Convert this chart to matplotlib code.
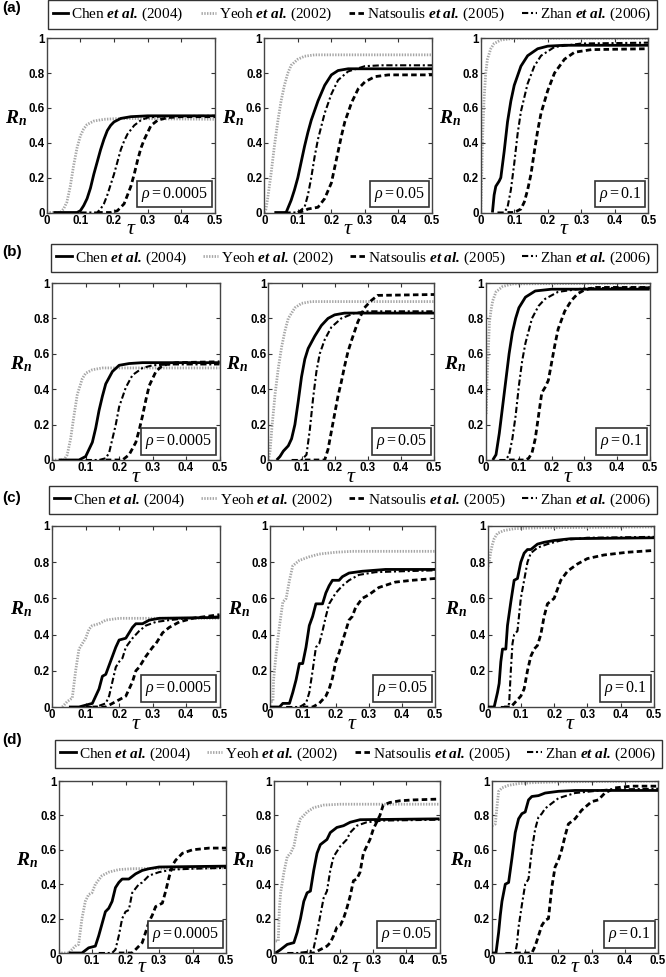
import matplotlib
matplotlib.use('Agg')
import matplotlib.pyplot as plt
from matplotlib.lines import Line2D

# ---------------- data ----------------
ROW_LABELS = ['(a)', '(b)', '(c)', '(d)']
RHO_LABELS = ['0.0005', '0.05', '0.1']
METHODS = ['Chen', 'Yeoh', 'Natsoulis', 'Zhan']
YEARS = ['2004', '2002', '2005', '2006']
X_TICKS = [0, 0.1, 0.2, 0.3, 0.4, 0.5]
X_TICK_LABELS = ['0', '0.1', '0.2', '0.3', '0.4', '0.5']
Y_TICKS = [0, 0.2, 0.4, 0.6, 0.8, 1]
Y_TICK_LABELS = ['0', '0.2', '0.4', '0.6', '0.8', '1']

# row (a)
A1_YEOH = [(0.0,0),(0.04,0),(0.05,0.02),(0.06,0.06),(0.07,0.15),(0.08,0.27),(0.09,0.37),(0.1,0.44),(0.11,0.48),(0.12,0.505),(0.14,0.525),(0.17,0.535),(0.22,0.54),(0.5,0.535)]
A1_CHEN = [(0.02,0),(0.09,0),(0.1,0.01),(0.11,0.04),(0.12,0.08),(0.13,0.14),(0.14,0.22),(0.15,0.29),(0.16,0.36),(0.17,0.42),(0.18,0.47),(0.19,0.5),(0.2,0.52),(0.22,0.54),(0.25,0.55),(0.3,0.555),(0.5,0.555)]
A1_ZHAN = [(0.1,0),(0.15,0),(0.16,0.02),(0.17,0.05),(0.18,0.1),(0.19,0.16),(0.2,0.22),(0.21,0.29),(0.22,0.36),(0.23,0.41),(0.24,0.45),(0.26,0.5),(0.28,0.53),(0.3,0.545),(0.35,0.553),(0.5,0.555)]
A1_NATS = [(0.15,0),(0.19,0),(0.21,0.01),(0.22,0.03),(0.23,0.05),(0.24,0.1),(0.25,0.15),(0.26,0.22),(0.27,0.3),(0.28,0.37),(0.29,0.42),(0.3,0.46),(0.31,0.5),(0.33,0.53),(0.36,0.545),(0.4,0.55),(0.5,0.55)]

A2_YEOH = [(0,0),(0.005,0.02),(0.01,0.08),(0.02,0.22),(0.03,0.38),(0.04,0.52),(0.05,0.64),(0.06,0.73),(0.07,0.8),(0.08,0.845),(0.1,0.88),(0.12,0.897),(0.15,0.905),(0.5,0.905)]
A2_CHEN = [(0.03,0),(0.065,0),(0.08,0.07),(0.09,0.13),(0.1,0.2),(0.11,0.29),(0.12,0.38),(0.13,0.46),(0.14,0.53),(0.16,0.64),(0.18,0.73),(0.2,0.79),(0.22,0.815),(0.25,0.825),(0.5,0.825)]
A2_ZHAN = [(0.06,0),(0.1,0),(0.12,0.03),(0.13,0.1),(0.14,0.2),(0.15,0.32),(0.16,0.42),(0.18,0.57),(0.2,0.68),(0.22,0.76),(0.25,0.81),(0.3,0.84),(0.35,0.845),(0.5,0.845)]
A2_NATS = [(0.1,0),(0.12,0.01),(0.13,0.02),(0.16,0.03),(0.18,0.08),(0.2,0.17),(0.21,0.26),(0.22,0.35),(0.23,0.44),(0.24,0.52),(0.26,0.63),(0.28,0.71),(0.3,0.75),(0.33,0.78),(0.37,0.79),(0.5,0.79)]

A3_YEOH = [(0,0),(0.003,0.2),(0.006,0.45),(0.01,0.65),(0.015,0.8),(0.02,0.88),(0.03,0.94),(0.04,0.97),(0.06,0.99),(0.1,1.0),(0.5,1.0)]
A3_CHEN = [(0.035,0),(0.04,0.1),(0.045,0.15),(0.055,0.18),(0.06,0.2),(0.07,0.35),(0.08,0.52),(0.09,0.64),(0.1,0.73),(0.12,0.84),(0.14,0.9),(0.17,0.94),(0.2,0.955),(0.25,0.96),(0.5,0.96)]
A3_ZHAN = [(0.05,0),(0.07,0),(0.08,0.03),(0.09,0.13),(0.1,0.28),(0.11,0.45),(0.12,0.58),(0.14,0.74),(0.16,0.84),(0.18,0.9),(0.22,0.95),(0.3,0.97),(0.5,0.975)]
A3_NATS = [(0.08,0),(0.1,0),(0.12,0.02),(0.13,0.06),(0.14,0.13),(0.15,0.22),(0.16,0.35),(0.17,0.47),(0.18,0.57),(0.2,0.7),(0.22,0.8),(0.25,0.88),(0.28,0.92),(0.33,0.935),(0.5,0.94)]

# row (b)
B1_YEOH = [(0.0,0),(0.035,0),(0.045,0.03),(0.055,0.12),(0.065,0.25),(0.075,0.37),(0.09,0.46),(0.1,0.49),(0.12,0.51),(0.15,0.52),(0.5,0.52)]
B1_CHEN = [(0.02,0),(0.08,0),(0.1,0.02),(0.12,0.1),(0.13,0.18),(0.14,0.28),(0.15,0.36),(0.16,0.43),(0.18,0.5),(0.2,0.535),(0.23,0.545),(0.27,0.55),(0.5,0.55)]
B1_ZHAN = [(0.1,0),(0.14,0),(0.16,0.01),(0.17,0.04),(0.18,0.12),(0.19,0.2),(0.2,0.3),(0.22,0.41),(0.24,0.48),(0.27,0.52),(0.3,0.535),(0.35,0.54),(0.5,0.54)]
B1_NATS = [(0.16,0),(0.21,0),(0.23,0.03),(0.25,0.1),(0.26,0.17),(0.27,0.25),(0.28,0.34),(0.29,0.42),(0.31,0.5),(0.33,0.535),(0.37,0.55),(0.5,0.555)]

B2_YEOH = [(0,0),(0.005,0.05),(0.01,0.17),(0.02,0.37),(0.03,0.52),(0.04,0.64),(0.05,0.73),(0.06,0.8),(0.08,0.86),(0.1,0.885),(0.13,0.895),(0.5,0.895)]
B2_CHEN = [(0.025,0),(0.035,0.02),(0.045,0.05),(0.06,0.08),(0.07,0.12),(0.08,0.2),(0.09,0.33),(0.1,0.47),(0.11,0.57),(0.12,0.63),(0.14,0.7),(0.16,0.76),(0.18,0.8),(0.2,0.82),(0.23,0.83),(0.5,0.83)]
B2_ZHAN = [(0.07,0),(0.1,0),(0.115,0.03),(0.125,0.17),(0.135,0.35),(0.145,0.5),(0.155,0.6),(0.17,0.68),(0.19,0.75),(0.22,0.8),(0.26,0.83),(0.3,0.84),(0.5,0.84)]
B2_NATS = [(0.11,0),(0.17,0),(0.18,0.06),(0.19,0.16),(0.2,0.26),(0.21,0.36),(0.22,0.44),(0.23,0.53),(0.24,0.61),(0.25,0.67),(0.27,0.78),(0.29,0.86),(0.31,0.9),(0.33,0.93),(0.5,0.935)]

B3_YEOH = [(0,0.26),(0.003,0.47),(0.006,0.6),(0.01,0.78),(0.015,0.85),(0.02,0.9),(0.03,0.95),(0.05,0.98),(0.08,0.995),(0.5,1.0)]
B3_CHEN = [(0.02,0),(0.03,0.03),(0.04,0.15),(0.05,0.3),(0.06,0.45),(0.07,0.6),(0.08,0.72),(0.09,0.8),(0.1,0.86),(0.12,0.92),(0.15,0.955),(0.2,0.965),(0.5,0.965)]
B3_ZHAN = [(0.04,0),(0.06,0),(0.07,0.03),(0.08,0.12),(0.09,0.25),(0.1,0.42),(0.11,0.56),(0.12,0.66),(0.14,0.8),(0.16,0.87),(0.18,0.91),(0.22,0.95),(0.3,0.97),(0.5,0.975)]
B3_NATS = [(0.07,0),(0.12,0),(0.13,0.01),(0.14,0.04),(0.15,0.12),(0.16,0.25),(0.17,0.38),(0.18,0.41),(0.19,0.45),(0.2,0.55),(0.21,0.65),(0.22,0.74),(0.24,0.84),(0.26,0.9),(0.28,0.94),(0.3,0.96),(0.33,0.975),(0.5,0.975)]

# row (c)
C1_YEOH = [(0.03,0),(0.045,0.03),(0.06,0.05),(0.07,0.2),(0.08,0.32),(0.09,0.35),(0.1,0.38),(0.11,0.43),(0.12,0.45),(0.14,0.46),(0.16,0.48),(0.2,0.49),(0.5,0.49)]
C1_CHEN = [(0.05,0),(0.08,0),(0.1,0.01),(0.12,0.02),(0.14,0.1),(0.15,0.17),(0.16,0.18),(0.18,0.28),(0.19,0.33),(0.2,0.37),(0.22,0.38),(0.24,0.44),(0.25,0.46),(0.27,0.46),(0.29,0.48),(0.32,0.49),(0.5,0.495)]
C1_ZHAN = [(0.1,0),(0.13,0),(0.16,0.02),(0.17,0.06),(0.18,0.14),(0.19,0.22),(0.2,0.25),(0.21,0.27),(0.22,0.33),(0.24,0.38),(0.26,0.42),(0.28,0.45),(0.31,0.47),(0.35,0.48),(0.4,0.49),(0.5,0.5)]
C1_NATS = [(0.12,0),(0.16,0),(0.18,0.02),(0.2,0.04),(0.22,0.06),(0.24,0.14),(0.25,0.2),(0.26,0.22),(0.28,0.28),(0.3,0.33),(0.31,0.35),(0.33,0.41),(0.35,0.44),(0.38,0.47),(0.42,0.49),(0.5,0.51)]

C2_YEOH = [(0.005,0.03),(0.01,0.03),(0.012,0.15),(0.02,0.3),(0.03,0.45),(0.04,0.58),(0.05,0.6),(0.06,0.7),(0.07,0.78),(0.09,0.81),(0.12,0.83),(0.15,0.845),(0.2,0.855),(0.25,0.86),(0.5,0.86)]
C2_CHEN = [(0.0,0),(0.03,0),(0.04,0.02),(0.06,0.02),(0.07,0.08),(0.08,0.15),(0.09,0.24),(0.1,0.24),(0.11,0.33),(0.12,0.45),(0.13,0.5),(0.14,0.57),(0.16,0.57),(0.17,0.63),(0.18,0.67),(0.19,0.7),(0.21,0.7),(0.22,0.72),(0.24,0.74),(0.28,0.75),(0.35,0.76),(0.5,0.76)]
C2_ZHAN = [(0.05,0),(0.09,0),(0.11,0.02),(0.12,0.08),(0.13,0.2),(0.14,0.33),(0.15,0.35),(0.16,0.42),(0.17,0.5),(0.18,0.57),(0.19,0.6),(0.2,0.63),(0.22,0.67),(0.24,0.7),(0.27,0.73),(0.32,0.745),(0.4,0.75),(0.5,0.755)]
C2_NATS = [(0.1,0),(0.13,0),(0.15,0.02),(0.16,0.04),(0.17,0.06),(0.18,0.1),(0.19,0.16),(0.2,0.25),(0.21,0.3),(0.22,0.36),(0.23,0.42),(0.24,0.48),(0.25,0.5),(0.26,0.55),(0.28,0.6),(0.3,0.62),(0.33,0.66),(0.38,0.69),(0.43,0.7),(0.5,0.71)]

C3_YEOH = [(0,0.76),(0.005,0.8),(0.01,0.86),(0.015,0.9),(0.02,0.93),(0.03,0.96),(0.05,0.975),(0.08,0.985),(0.15,0.99),(0.5,0.995)]
C3_CHEN = [(0.0,0),(0.02,0),(0.03,0.08),(0.035,0.13),(0.04,0.25),(0.045,0.32),(0.055,0.32),(0.06,0.45),(0.07,0.58),(0.08,0.7),(0.09,0.71),(0.1,0.8),(0.11,0.85),(0.12,0.87),(0.13,0.87),(0.15,0.9),(0.17,0.91),(0.2,0.92),(0.25,0.93),(0.5,0.935)]
C3_ZHAN = [(0.04,0),(0.06,0),(0.065,0.02),(0.07,0.2),(0.075,0.35),(0.08,0.4),(0.09,0.42),(0.1,0.6),(0.11,0.7),(0.12,0.8),(0.13,0.85),(0.15,0.88),(0.18,0.9),(0.22,0.92),(0.3,0.935),(0.5,0.94)]
C3_NATS = [(0.05,0),(0.07,0),(0.08,0.02),(0.1,0.06),(0.11,0.1),(0.12,0.2),(0.13,0.28),(0.14,0.32),(0.15,0.34),(0.16,0.4),(0.17,0.5),(0.18,0.57),(0.2,0.6),(0.21,0.65),(0.22,0.7),(0.24,0.75),(0.27,0.79),(0.3,0.82),(0.35,0.84),(0.42,0.855),(0.5,0.865)]

# row (d)
D1_YEOH = [(0.0,0),(0.03,0),(0.04,0.02),(0.05,0.04),(0.06,0.05),(0.07,0.2),(0.08,0.3),(0.09,0.34),(0.1,0.35),(0.11,0.4),(0.13,0.45),(0.15,0.47),(0.18,0.485),(0.22,0.49),(0.5,0.495)]
D1_CHEN = [(0.03,0),(0.07,0),(0.09,0.03),(0.11,0.04),(0.12,0.1),(0.13,0.17),(0.14,0.24),(0.15,0.26),(0.16,0.3),(0.17,0.38),(0.18,0.41),(0.19,0.43),(0.21,0.43),(0.23,0.46),(0.25,0.48),(0.27,0.49),(0.3,0.5),(0.5,0.505)]
D1_ZHAN = [(0.12,0),(0.16,0),(0.17,0.02),(0.18,0.1),(0.19,0.2),(0.2,0.24),(0.21,0.25),(0.22,0.35),(0.24,0.4),(0.25,0.41),(0.27,0.45),(0.3,0.47),(0.34,0.485),(0.4,0.49),(0.5,0.495)]
D1_NATS = [(0.18,0),(0.22,0),(0.24,0.04),(0.25,0.06),(0.26,0.12),(0.27,0.18),(0.28,0.22),(0.29,0.27),(0.31,0.29),(0.32,0.36),(0.33,0.44),(0.34,0.51),(0.35,0.54),(0.37,0.58),(0.4,0.6),(0.45,0.61),(0.5,0.61)]

D2_YEOH = [(0.005,0.07),(0.013,0.07),(0.016,0.25),(0.02,0.35),(0.03,0.47),(0.04,0.56),(0.05,0.58),(0.06,0.62),(0.07,0.72),(0.08,0.78),(0.1,0.82),(0.12,0.845),(0.15,0.86),(0.2,0.865),(0.5,0.865)]
D2_CHEN = [(0.005,0),(0.02,0.02),(0.04,0.05),(0.06,0.06),(0.07,0.12),(0.08,0.2),(0.09,0.3),(0.1,0.35),(0.11,0.36),(0.12,0.48),(0.13,0.58),(0.14,0.63),(0.16,0.66),(0.17,0.7),(0.19,0.73),(0.21,0.74),(0.23,0.76),(0.26,0.775),(0.5,0.78)]
D2_ZHAN = [(0.04,0),(0.08,0),(0.11,0.01),(0.12,0.03),(0.13,0.12),(0.14,0.22),(0.15,0.32),(0.16,0.36),(0.17,0.48),(0.18,0.56),(0.19,0.59),(0.2,0.62),(0.22,0.66),(0.23,0.7),(0.25,0.74),(0.28,0.76),(0.33,0.77),(0.5,0.775)]
D2_NATS = [(0.08,0),(0.12,0),(0.14,0.02),(0.16,0.04),(0.17,0.06),(0.18,0.1),(0.19,0.15),(0.2,0.16),(0.21,0.2),(0.22,0.26),(0.23,0.33),(0.24,0.42),(0.25,0.43),(0.26,0.47),(0.27,0.58),(0.28,0.62),(0.29,0.66),(0.3,0.72),(0.31,0.76),(0.32,0.8),(0.33,0.86),(0.35,0.875),(0.38,0.885),(0.42,0.89),(0.5,0.895)]

D3_YEOH = [(0,0.74),(0.01,0.75),(0.015,0.85),(0.02,0.94),(0.03,0.96),(0.05,0.975),(0.08,0.985),(0.12,0.99),(0.2,0.995),(0.5,1.0)]
D3_CHEN = [(0.0,0),(0.012,0),(0.02,0.12),(0.025,0.22),(0.03,0.3),(0.035,0.35),(0.04,0.4),(0.05,0.41),(0.06,0.55),(0.07,0.7),(0.08,0.78),(0.09,0.81),(0.1,0.82),(0.11,0.89),(0.12,0.91),(0.14,0.915),(0.16,0.93),(0.2,0.94),(0.25,0.945),(0.5,0.945)]
D3_ZHAN = [(0.04,0),(0.07,0),(0.075,0.05),(0.08,0.15),(0.09,0.28),(0.1,0.4),(0.11,0.43),(0.12,0.6),(0.13,0.72),(0.14,0.79),(0.15,0.81),(0.16,0.84),(0.18,0.87),(0.2,0.9),(0.25,0.93),(0.35,0.95),(0.5,0.955)]
D3_NATS = [(0.07,0),(0.12,0),(0.13,0.04),(0.14,0.1),(0.15,0.16),(0.16,0.19),(0.17,0.2),(0.18,0.38),(0.19,0.5),(0.2,0.54),(0.21,0.6),(0.22,0.68),(0.23,0.75),(0.25,0.78),(0.27,0.83),(0.3,0.88),(0.32,0.89),(0.34,0.93),(0.37,0.96),(0.42,0.97),(0.5,0.97)]

PANELS = [
    [(A1_CHEN, A1_YEOH, A1_NATS, A1_ZHAN), (A2_CHEN, A2_YEOH, A2_NATS, A2_ZHAN), (A3_CHEN, A3_YEOH, A3_NATS, A3_ZHAN)],
    [(B1_CHEN, B1_YEOH, B1_NATS, B1_ZHAN), (B2_CHEN, B2_YEOH, B2_NATS, B2_ZHAN), (B3_CHEN, B3_YEOH, B3_NATS, B3_ZHAN)],
    [(C1_CHEN, C1_YEOH, C1_NATS, C1_ZHAN), (C2_CHEN, C2_YEOH, C2_NATS, C2_ZHAN), (C3_CHEN, C3_YEOH, C3_NATS, C3_ZHAN)],
    [(D1_CHEN, D1_YEOH, D1_NATS, D1_ZHAN), (D2_CHEN, D2_YEOH, D2_NATS, D2_ZHAN), (D3_CHEN, D3_YEOH, D3_NATS, D3_ZHAN)],
]

# ---------------- layout / style (pixels) ----------------
W, H = 666, 977
LAYOUT = [
    dict(leg=(47.7, 657, 14.5), py=(38.3, 212.5), px=[(46.7, 215), (264.3, 432), (480.7, 648.3)], lab=8, tau=16),
    dict(leg=(51, 657, 258), py=(283, 460), px=[(52.2, 219.5), (268.4, 434), (486.2, 649.7)], lab=252, tau=16),
    dict(leg=(49, 657, 500), py=(526, 707), px=[(52.2, 219.5), (269.6, 435), (487.5, 654)], lab=498, tau=16),
    dict(leg=(55, 662, 754), py=(781, 953), px=[(58.5, 226), (274, 439.5), (492, 658)], lab=740, tau=13),
]

STYLES = [
    dict(color='black', lw=2.0, ls='-', zorder=5),
    dict(color='#a6a6a6', lw=2.0, ls=(0, (0.5, 0.5)), zorder=2),
    dict(color='black', lw=2.0, ls=(0, (2.0, 1.2)), zorder=4),
    dict(color='black', lw=1.5, ls=(0, (3.0, 1.3, 1.0, 1.3)), zorder=3),
]

plt.rcParams['mathtext.fontset'] = 'custom'
plt.rcParams['mathtext.rm'] = 'Liberation Serif'
plt.rcParams['mathtext.it'] = 'Liberation Serif:italic'
plt.rcParams['mathtext.bf'] = 'Liberation Serif:bold'
HAS_BFIT = 'mathtext.bfit' in plt.rcParams
if HAS_BFIT:
    plt.rcParams['mathtext.bfit'] = 'Liberation Serif:italic:bold'
    ETAL = r'\mathbfit{et\ al.}'
    RN = r'$\mathbfit{R}_{\mathbfit{n}}$'
else:
    ETAL = r'\mathit{et\ al.}'
    RN = r'$R_n$'

fig = plt.figure(figsize=(W / 100, H / 100), dpi=100)

def rect(x0, x1, y0, y1):
    return [x0 / W, 1 - y1 / H, (x1 - x0) / W, (y1 - y0) / H]

tick_font = dict(fontsize=8.3, fontweight='bold', family='Liberation Sans')

for r, row in enumerate(PANELS):
    lay = LAYOUT[r]
    handles = []
    for c, curves in enumerate(row):
        x0, x1 = lay['px'][c]
        y0, y1 = lay['py']
        ax = fig.add_axes(rect(x0, x1, y0, y1))
        for k, pts in enumerate(curves):
            st = STYLES[k]
            t = [p[0] for p in pts]
            v = [p[1] for p in pts]
            ax.plot(t, v, color=st['color'], lw=st['lw'], ls=st['ls'],
                    zorder=st['zorder'], solid_capstyle='butt', dash_capstyle='butt')
            if c == 0:
                handles.append(Line2D([], [], color=st['color'], lw=st['lw'], ls=st['ls']))
        ax.set_xlim(0, 0.5)
        ax.set_ylim(0, 1)
        ax.set_xticks(X_TICKS, labels=X_TICK_LABELS, **tick_font)
        ax.set_yticks(Y_TICKS, labels=Y_TICK_LABELS, **tick_font)
        ax.tick_params(direction='in', top=True, right=True, length=3, width=0.8,
                       pad=1.5, color='#333333')
        for sp in ax.spines.values():
            sp.set_color('#444444')
            sp.set_linewidth(1.0)
        aw = x1 - x0
        ah = y1 - y0
        ax.text(-31 / aw, 0.54, RN, transform=ax.transAxes, fontsize=14,
                ha='center', va='center')
        ax.text(0.5, -lay['tau'] / ah, r'$\tau$', transform=ax.transAxes, fontsize=16,
                ha='center', va='center')
        ax.text(1 - 7 / aw, 9 / ah, r'$\rho = \mathrm{' + RHO_LABELS[c] + '}$',
                transform=ax.transAxes, fontsize=11.5, ha='right', va='bottom',
                zorder=10,
                bbox=dict(boxstyle='square,pad=0.25', facecolor='white',
                          edgecolor='#333333', linewidth=1.2))
    lx0, lx1, lyc = lay['leg']
    labels = [r'$\mathrm{' + m + r'}\ ' + ETAL + r'\,\mathrm{(' + y + r')}$'
              for m, y in zip(METHODS, YEARS)]
    leg = fig.legend(handles, labels, loc='center',
                     bbox_to_anchor=(lx0 / W, 1 - lyc / H - 0.001, (lx1 - lx0) / W, 0.002),
                     mode='expand', ncol=4, frameon=True, fancybox=False,
                     prop=dict(family='Liberation Serif', size=11),
                     handlelength=1.0, handletextpad=0.2, columnspacing=0.4,
                     borderaxespad=0, borderpad=0.35, edgecolor='#333333', framealpha=1)
    leg.get_frame().set_linewidth(1.0)
    fig.text(2 / W, 1 - lay['lab'] / H, ROW_LABELS[r], fontsize=11, fontweight='bold',
             family='Liberation Sans', va='center', ha='left')

fig.savefig('out.png', dpi=100)
